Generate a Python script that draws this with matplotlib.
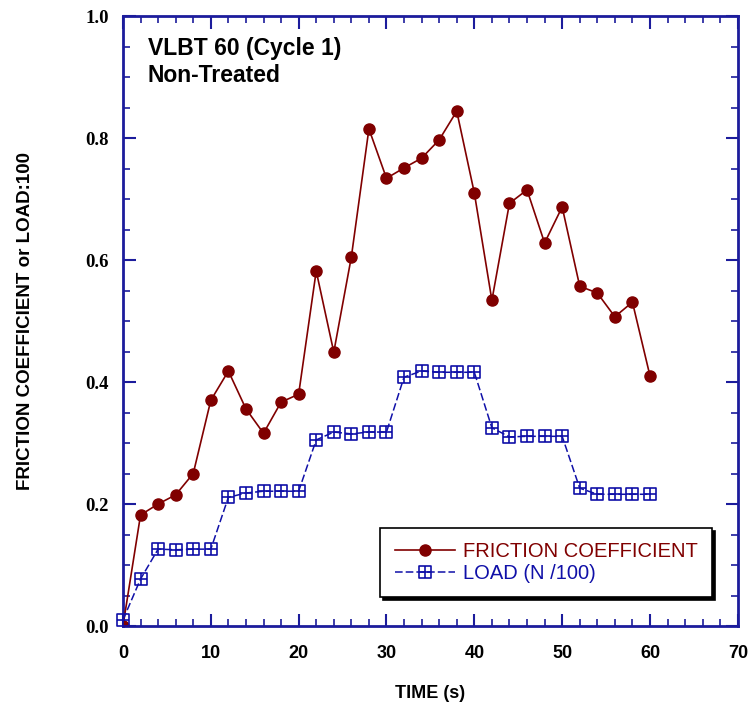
import matplotlib
matplotlib.use("Agg")
import matplotlib.pyplot as plt
from matplotlib.path import Path
from matplotlib.ticker import MultipleLocator

time_s = [0, 2, 4, 6, 8, 10, 12, 14, 16, 18, 20, 22, 24, 26, 28, 30,
          32, 34, 36, 38, 40, 42, 44, 46, 48, 50, 52, 54, 56, 58, 60]
friction = [0.0, 0.182, 0.20, 0.215, 0.25, 0.37, 0.418, 0.356, 0.316, 0.367, 0.38,
            0.582, 0.449, 0.605, 0.815, 0.734, 0.751, 0.767, 0.797, 0.844, 0.71,
            0.534, 0.693, 0.715, 0.628, 0.687, 0.557, 0.546, 0.507, 0.531, 0.41]
load = [0.01, 0.077, 0.126, 0.125, 0.126, 0.126, 0.211, 0.218, 0.221, 0.221, 0.221,
        0.305, 0.318, 0.315, 0.318, 0.318, 0.408, 0.418, 0.416, 0.416, 0.416,
        0.325, 0.31, 0.311, 0.311, 0.311, 0.226, 0.216, 0.216, 0.216, 0.216]

navy = "#1c1c9c"
red = "#800000"
blue = "#1010a8"
sans = ["Liberation Sans", "DejaVu Sans"]

# square with a cross inside
sq = Path([(-1, -1), (1, -1), (1, 1), (-1, 1), (-1, -1),
           (0, -1), (0, 1), (-1, 0), (1, 0)],
          [Path.MOVETO, Path.LINETO, Path.LINETO, Path.LINETO, Path.CLOSEPOLY,
           Path.MOVETO, Path.LINETO, Path.MOVETO, Path.LINETO])

fig = plt.figure(figsize=(7.48, 7.06), dpi=100)
ax = fig.add_axes([0.1644, 0.1133, 0.822, 0.864])

ax.plot(time_s, friction, color=red, lw=1.2, marker="o", ms=8,
        mfc=red, mec=red, label="FRICTION COEFFICIENT", zorder=3)
ax.plot(time_s, load, color=blue, lw=1.1, ls=(0, (5, 2)), marker=sq, ms=8,
        mfc="none", mec=blue, mew=1.2, label="LOAD (N /100)", zorder=3, clip_on=False)

ax.set_xlim(0, 70)
ax.set_ylim(0, 1.0)
ax.xaxis.set_major_locator(MultipleLocator(10))
ax.xaxis.set_minor_locator(MultipleLocator(2))
ax.yaxis.set_major_locator(MultipleLocator(0.2))
ax.yaxis.set_minor_locator(MultipleLocator(0.05))
ax.yaxis.set_major_formatter(plt.FuncFormatter(lambda v, p: f"{v:.1f}"))

for s in ax.spines.values():
    s.set_color(navy)
    s.set_linewidth(2)
ax.tick_params(which="both", direction="in", color=navy, top=True, right=True)
ax.tick_params(which="major", length=9, width=1.5, pad=10)
ax.tick_params(axis="x", which="major", pad=14)
ax.tick_params(which="minor", length=5, width=1.2)

for t in ax.get_xticklabels():
    t.set_fontfamily(sans)
    t.set_fontweight("bold")
    t.set_fontsize(13)
for t in ax.get_yticklabels():
    t.set_fontfamily(["Liberation Serif", "DejaVu Serif"])
    t.set_fontweight("bold")
    t.set_fontsize(13.5)

ax.set_xlabel("TIME (s)", fontsize=13, fontweight="bold", family=sans, labelpad=16)
ax.set_ylabel("FRICTION COEFFICIENT or LOAD:100", fontsize=13.5, fontweight="bold",
              family=sans, labelpad=37)

ax.text(0.04, 0.965, "VLBT 60 (Cycle 1)\nNon-Treated", transform=ax.transAxes,
        fontsize=16.5, fontweight="bold", family=sans,
        va="top", ha="left", linespacing=1.2)

leg = ax.legend(loc="lower right", bbox_to_anchor=(0.958, 0.0475), borderaxespad=0,
                frameon=True, fancybox=False, shadow={"color": "black", "alpha": 1},
                prop={"family": sans, "size": 14.5},
                handlelength=3.0, handletextpad=0.4, borderpad=0.7, labelspacing=0.15)
leg.get_frame().set_edgecolor("black")
leg.get_frame().set_linewidth(1.2)
for txt, c in zip(leg.get_texts(), [red, blue]):
    txt.set_color(c)

fig.savefig("out.png", dpi=100)
